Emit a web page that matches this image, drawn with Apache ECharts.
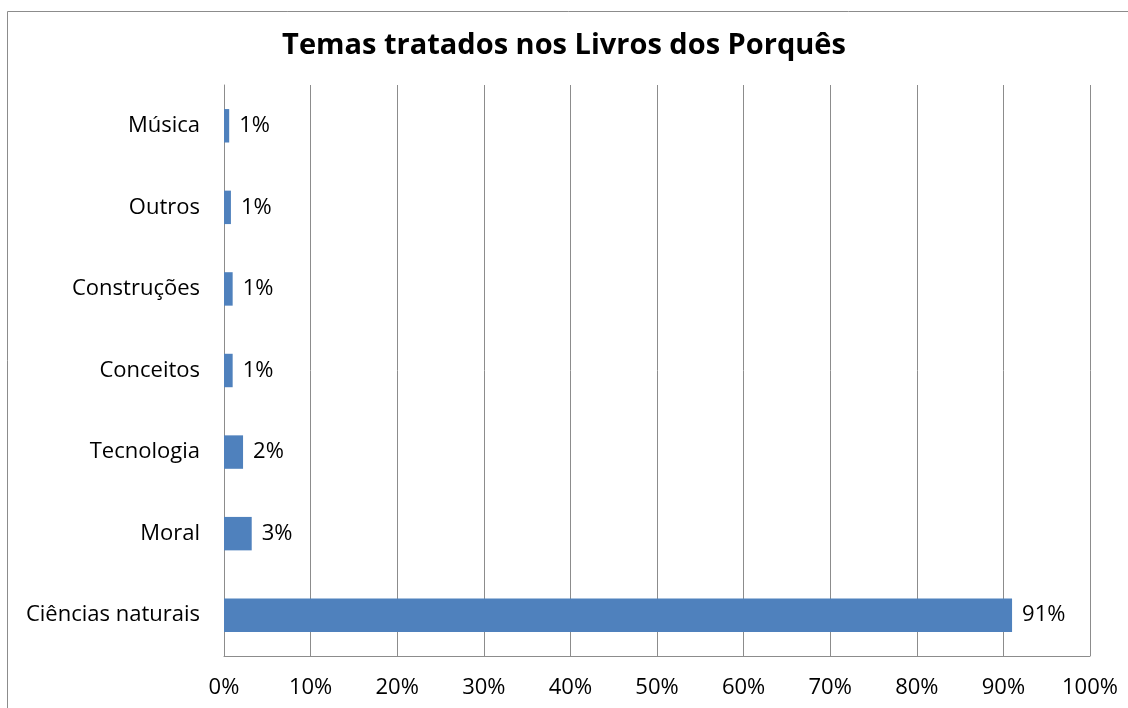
<!DOCTYPE html>
<html><head><meta charset="utf-8">
<script src="https://cdn.jsdelivr.net/npm/echarts@6/dist/echarts.min.js"></script>
<style>html,body{margin:0;padding:0;background:#fff}#c{width:1128px;height:708px}</style>
</head><body><div id="c"></div>
<script>
const categories = ['Ciências naturais','Moral','Tecnologia','Conceitos','Construções','Outros','Música'];
const values = [91, 3.2, 2.2, 1.0, 1.0, 0.8, 0.6];
const xTicks = [0,10,20,30,40,50,60,70,80,90,100];
const FONT = 'Open Sans';
const chart = echarts.init(document.getElementById('c'));
chart.setOption({
  animation:false,
  backgroundColor:'#fff',
  graphic:[{type:'rect',shape:{x:7.5,y:11.5,width:1140,height:720},style:{fill:'none',stroke:'#8c8c8c',lineWidth:1},silent:true}],
  title:{text:'Temas tratados nos Livros dos Porquês',left:'center',top:26,textStyle:{fontFamily:FONT,fontWeight:'bold',fontSize:29,color:'#000'}},
  grid:{left:224,right:38,top:85,bottom:52,containLabel:false},
  xAxis:{type:'value',min:0,max:100,interval:10,
    axisLine:{show:true,lineStyle:{color:'#8c8c8c',width:1}},
    axisTick:{show:false},
    splitLine:{show:true,lineStyle:{color:'#8c8c8c',width:1}},
    axisLabel:{margin:21,fontFamily:FONT,fontSize:22,color:'#000',formatter:v=>v+'%'}},
  yAxis:{type:'category',data:categories,
    axisLine:{show:true,lineStyle:{color:'#8c8c8c',width:1}},
    axisTick:{show:false},
    axisLabel:{margin:24,fontFamily:FONT,fontSize:22,color:'#000'}},
  series:[{type:'bar',data:values,barWidth:'41%',
    itemStyle:{color:'#4F81BD'},
    label:{show:true,position:'right',distance:10,fontFamily:FONT,fontSize:22,color:'#000',formatter:p=>Math.round(p.value)+'%'}}]
});
</script></body></html>
